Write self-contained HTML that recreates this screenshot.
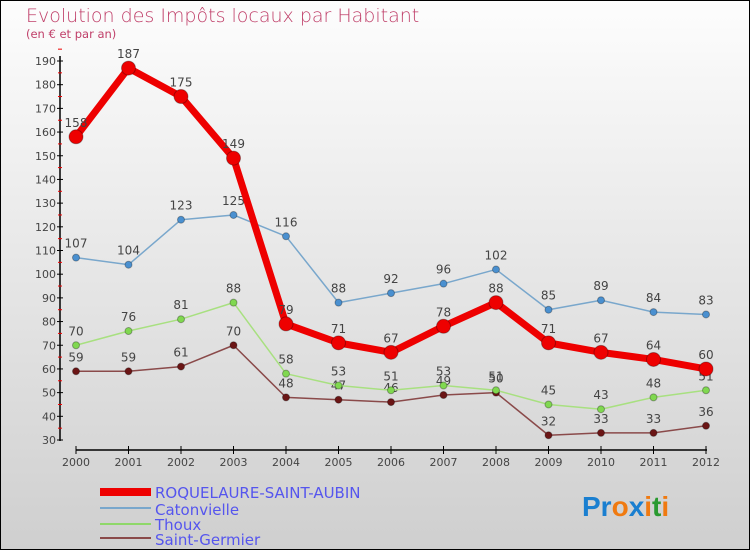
<!DOCTYPE html>
<html><head><meta charset="utf-8"><style>
body{margin:0;width:750px;height:550px;overflow:hidden;font-family:"DejaVu Sans","Liberation Sans",sans-serif}
</style></head><body>
<svg id="c" width="750" height="550" xmlns="http://www.w3.org/2000/svg">
<defs><linearGradient id="bg" x1="0" y1="0" x2="0" y2="1"><stop offset="0" stop-color="#fdfdfd"/><stop offset="1" stop-color="#cfcfcf"/></linearGradient></defs>
<rect x="0.5" y="0.5" width="749" height="549" fill="url(#bg)" stroke="#000"/>
<text x="26" y="22" font-size="19" fill="#c0406a" font-weight="200">Evolution des Impôts locaux par Habitant</text>
<text x="26" y="38" font-size="11.5" fill="#c0406a">(en € et par an)</text>
<g id="axes"></g><g id="series"></g>
<g font-size="15" fill="#5555ee">
<rect x="100" y="488" width="51" height="8" fill="#e00"/>
<text x="155" y="498" fill="#5555ee">ROQUELAURE-SAINT-AUBIN</text>
<rect x="100" y="507" width="51" height="2" fill="#79a7cc"/>
<text x="155" y="515" fill="#5555ee">Catonvielle</text>
<rect x="100" y="523" width="51" height="2" fill="#8fd86a"/>
<text x="155" y="530" fill="#5555ee">Thoux</text>
<rect x="100" y="537" width="51" height="2" fill="#8a4a4a"/>
<text x="155" y="545" fill="#5555ee">Saint-Germier</text>
</g>
<g font-size="28" font-weight="bold" font-family="Liberation Sans, sans-serif">
<text x="582" y="516"><tspan fill="#1a7fd0">Pr</tspan><tspan fill="#f07a10">o</tspan><tspan fill="#1a7fd0">x</tspan><tspan fill="#f07a10">i</tspan><tspan fill="#2a9a30">t</tspan><tspan fill="#f07a10">i</tspan></text>
</g>
</svg>
<script>
const years=["2000","2001","2002","2003","2004","2005","2006","2007","2008","2009","2010","2011","2012"];
const roquelaure=[158,187,175,149,79,71,67,78,88,71,67,64,60];
const catonvielle=[107,104,123,125,116,88,92,96,102,85,89,84,83];
const thoux=[70,76,81,88,58,53,51,53,51,45,43,48,51];
const saintGermier=[59,59,61,70,48,47,46,49,50,32,33,33,36];
const yTicks=[30,40,50,60,70,80,90,100,110,120,130,140,150,160,170,180,190];
const NS="http://www.w3.org/2000/svg";
const x=i=>76+i*52.5, y=v=>440-(v-30)*(379/160);
function mk(t,a,p){const e=document.createElementNS(NS,t);for(const k in a)e.setAttribute(k,a[k]);p.appendChild(e);return e;}
const ax=document.getElementById('axes');
mk('line',{x1:60,y1:56,x2:60,y2:441,stroke:'#000','stroke-width':1.5},ax);
mk('line',{x1:76,y1:450,x2:707,y2:450,stroke:'#000','stroke-width':1.5},ax);
yTicks.forEach(v=>{mk('line',{x1:57,x2:63,y1:y(v),y2:y(v),stroke:'#000'},ax);
 mk('line',{x1:58,x2:62,y1:y(v+5),y2:y(v+5),stroke:'#e00'},ax);
 const t=mk('text',{x:56,y:y(v)+4,'text-anchor':'end','font-size':11,fill:'#444'},ax);
 t.textContent=v;});
years.forEach((yr,i)=>{mk('line',{x1:x(i),x2:x(i),y1:446,y2:454,stroke:'#000'},ax);
 const t=mk('text',{x:x(i),y:466,'text-anchor':'middle','font-size':11,fill:'#444'},ax);
 t.textContent=yr;});
const sg=document.getElementById('series');
function draw(data,color,w,r,name,dot){
 const g=mk('g',{},sg);
 
 
 mk('polyline',{points:data.map((v,i)=>x(i)+','+y(v)).join(' '),fill:'none',stroke:color,'stroke-width':w,'stroke-linejoin':'round'},g);
 data.forEach((v,i)=>{const c=mk('circle',{cx:x(i),cy:y(v),r:r,fill:dot,stroke:'rgba(0,0,0,0.3)'},g);
  
  const t=mk('text',{x:x(i),y:y(v)-10,'text-anchor':'middle','font-size':12,fill:'#444'},g);
  t.textContent=v;});
}
draw(saintGermier,'#8a4a4a',1.5,3.5,'saint-germier-series','#6b1515');
draw(thoux,'#a8e080',1.5,3.5,'thoux-series','#80d850');
draw(catonvielle,'#79a7cc',1.5,3.5,'catonvielle-series','#4a90d0');
draw(roquelaure,'#ee0000',7,7,'roquelaure-series','#ee0000');
</script>
</body></html>
